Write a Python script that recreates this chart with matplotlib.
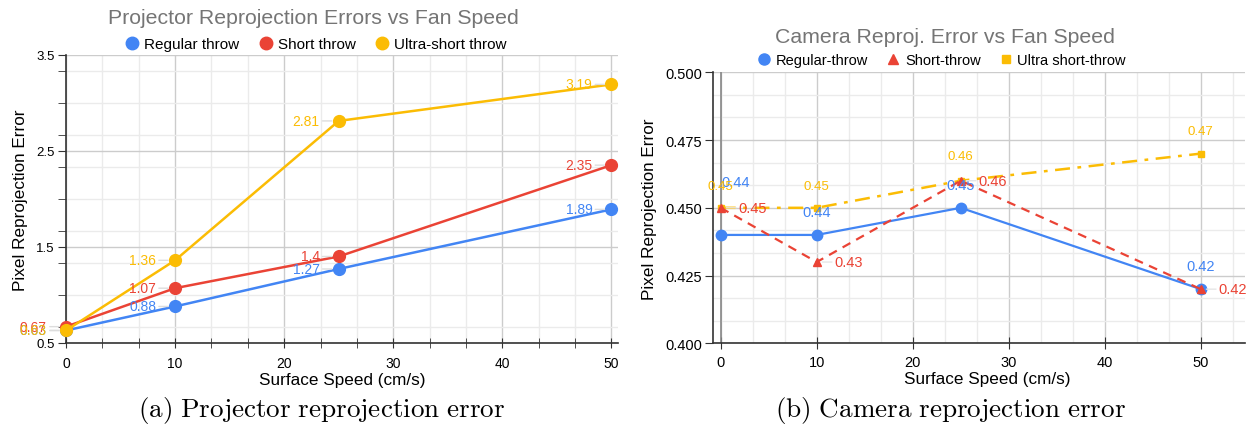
import matplotlib
matplotlib.use("Agg")
import matplotlib.pyplot as plt
import numpy as np
from matplotlib.ticker import MultipleLocator, FormatStrFormatter
from matplotlib.lines import Line2D

plt.rcParams['font.family'] = ['Liberation Sans', 'DejaVu Sans']
plt.rcParams['mathtext.fontset'] = 'cm'

# ---------------- data ----------------
speeds = [0, 10, 25, 50]

proj_regular = [0.63, 0.88, 1.27, 1.89]
proj_short = [0.67, 1.07, 1.4, 2.35]
proj_ultra = [0.63, 1.36, 2.81, 3.19]
proj_names = ["Regular throw", "Short throw", "Ultra-short throw"]

cam_regular = [0.44, 0.44, 0.45, 0.42]
cam_short = [0.45, 0.43, 0.46, 0.42]
cam_ultra = [0.45, 0.45, 0.46, 0.47]
cam_names = ["Regular-throw", "Short-throw", "Ultra short-throw"]

BLUE, RED, YEL = "#4285F4", "#EA4335", "#FBBC04"
GRID_MAJ, GRID_MIN = "#cccccc", "#ebebeb"
AXC = "#333333"

fig = plt.figure(figsize=(12.52, 4.31), dpi=100)

# ---------------- left chart ----------------
ax1 = fig.add_axes([0.0527, 0.2019, 0.4409, 0.6691])
ax1.set_xlim(0, 50.6)
ax1.set_ylim(0.5, 3.5)
ax1.xaxis.set_major_locator(MultipleLocator(10))
ax1.xaxis.set_minor_locator(MultipleLocator(10 / 3))
ax1.yaxis.set_minor_locator(MultipleLocator(1 / 3))
ax1.set_yticks([0.5, 1.5, 2.5, 3.5])
ax1.grid(which='major', color=GRID_MAJ, lw=1.0, zorder=0)
ax1.grid(which='minor', color=GRID_MIN, lw=1.0, zorder=0)
for s in ['top', 'right']:
    ax1.spines[s].set_visible(False)
for s in ['left', 'bottom']:
    ax1.spines[s].set_color(AXC)
    ax1.spines[s].set_linewidth(1.2)
ax1.tick_params(axis='y', which='both', length=6, color=AXC, labelsize=9.5, pad=2)
ax1.tick_params(axis='x', which='both', direction='inout', length=7, color=AXC, labelsize=10, pad=6)
ax1.set_axisbelow(True)

for vals, col in [(proj_regular, BLUE), (proj_short, RED), (proj_ultra, YEL)]:
    ax1.plot(speeds, vals, color=col, lw=1.8, marker='o', ms=8.5, zorder=3, clip_on=False)
    for xv, yv in zip(speeds, vals):
        ax1.annotate(f"{yv:g}", xy=(xv, yv), xytext=(-19, 0), textcoords='offset pixels',
                     ha='right', va='center', fontsize=10, color=col, zorder=4,
                     arrowprops=dict(arrowstyle='-', color='#dddddd', lw=1.0, shrinkA=0, shrinkB=5))

ax1.set_ylabel("Pixel Reprojection Error", fontsize=12.3, labelpad=6)
ax1.set_xlabel("Surface Speed (cm/s)", fontsize=12.3, labelpad=1)
fig.text(0.250, 0.958, "Projector Reprojection Errors vs Fan Speed", ha='center', va='center',
         fontsize=15.3, color='#757575')
h1 = [Line2D([], [], color=c, marker='o', ls='none', ms=9) for c in (BLUE, RED, YEL)]
fig.legend(h1, proj_names, loc='center', bbox_to_anchor=(0.252, 0.895), ncol=3, frameon=False,
           fontsize=11, handletextpad=0.3, columnspacing=1.2, handlelength=1.0)

# ---------------- right chart ----------------
ax2 = fig.add_axes([0.5695, 0.201, 0.4249, 0.629])
ax2.set_xlim(-0.8, 54.6)
ax2.set_ylim(0.4, 0.5)
ax2.xaxis.set_major_locator(MultipleLocator(10))
ax2.xaxis.set_minor_locator(MultipleLocator(10 / 3))
ax2.yaxis.set_major_locator(MultipleLocator(0.025))
ax2.yaxis.set_minor_locator(MultipleLocator(0.025 / 3))
ax2.yaxis.set_major_formatter(FormatStrFormatter('%.3f'))
ax2.grid(which='major', color=GRID_MAJ, lw=1.0, zorder=0)
ax2.grid(which='minor', color=GRID_MIN, lw=1.0, zorder=0)
ax2.axvline(0, color='#888888', lw=1.2, zorder=1)
for s in ['top', 'right']:
    ax2.spines[s].set_visible(False)
for s in ['left', 'bottom']:
    ax2.spines[s].set_color(AXC)
    ax2.spines[s].set_linewidth(1.2)
ax2.tick_params(axis='y', which='major', length=6, color=AXC, labelsize=10.5, pad=2)
ax2.tick_params(axis='x', which='major', direction='inout', length=9, color=AXC, labelsize=10.5, pad=4)
ax2.tick_params(which='minor', length=0)
ax2.set_axisbelow(True)

ax2.plot(speeds, cam_regular, color=BLUE, lw=1.6, marker='o', ms=7.5, zorder=3)
ax2.plot(speeds, cam_short, color=RED, lw=1.6, ls=(0, (4, 3)), marker='^', ms=6, zorder=4)
ax2.plot(speeds, cam_ultra, color=YEL, lw=1.8, ls=(0, (6, 3, 1.5, 3)), marker='s', ms=4.5, zorder=3)

reg_offsets = [(15, 53), (0, 23), (0, 23), (0, 23)]
ult_offsets = [(0, 22), (0, 22), (0, 25), (0, 23)]
for xv, yv, off in zip(speeds, cam_regular, reg_offsets):
    ax2.annotate(f"{yv:g}", xy=(xv, yv), xytext=off, textcoords='offset pixels',
                 ha='center', va='center', fontsize=10.5, color=BLUE, zorder=5)
for xv, yv in zip(speeds, cam_short):
    ax2.annotate(f"{yv:g}", xy=(xv, yv), xytext=(18, 0), textcoords='offset pixels',
                 ha='left', va='center', fontsize=10.5, color=RED, zorder=5,
                 arrowprops=dict(arrowstyle='-', color='#e6e6e6', lw=1.0, shrinkA=0, shrinkB=4))
for xv, yv, off in zip(speeds, cam_ultra, ult_offsets):
    ax2.annotate(f"{yv:g}", xy=(xv, yv), xytext=off, textcoords='offset pixels',
                 ha='center', va='center', fontsize=9.5, color=YEL, zorder=5)

ax2.set_ylabel("Pixel Reprojection Error", fontsize=12.3, labelpad=6)
ax2.set_xlabel("Surface Speed (cm/s)", fontsize=12.3, labelpad=1)
ax2.xaxis.label.set_x(0.515)
fig.text(0.755, 0.914, "Camera Reproj. Error vs Fan Speed", ha='center', va='center',
         fontsize=15.3, color='#757575')
h2 = [Line2D([], [], color=BLUE, marker='o', ls='none', ms=8),
      Line2D([], [], color=RED, marker='^', ls='none', ms=7),
      Line2D([], [], color=YEL, marker='s', ls='none', ms=6)]
fig.legend(h2, cam_names, loc='center', bbox_to_anchor=(0.752, 0.858), ncol=3, frameon=False,
           fontsize=10.5, handletextpad=0.3, columnspacing=1.2, handlelength=1.0)

# ---------------- sub-captions ----------------
fig.text(0.257, 0.048, r"$\mathrm{(a)\ Projector\ reprojection\ error}$", ha='center', va='center',
         fontsize=19.5)
fig.text(0.759, 0.048, r"$\mathrm{(b)\ Camera\ reprojection\ error}$", ha='center', va='center',
         fontsize=19.5)

fig.savefig("out.png", dpi=100)
